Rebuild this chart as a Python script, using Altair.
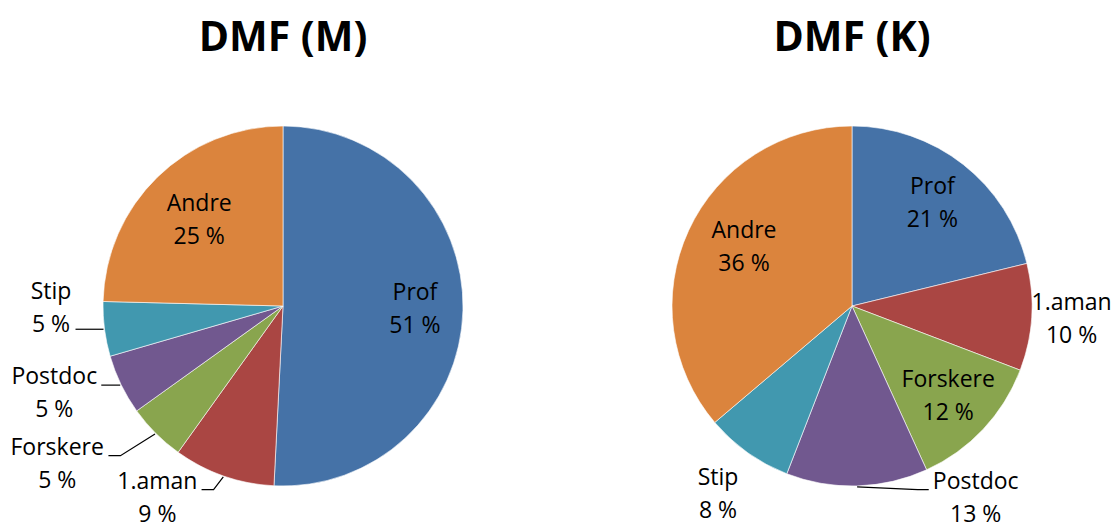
import math
import altair as alt
import pandas as pd

# ---- data -----------------------------------------------------------------
CATEGORIES = ["Prof", "1.aman", "Forskere", "Postdoc", "Stip", "Andre"]
M_VALUES = [50.8, 9.1, 5.2, 5.4, 4.9, 24.6]
K_VALUES = [21.2, 9.6, 12.4, 12.7, 7.9, 36.2]
TITLES = ["DMF (M)", "DMF (K)"]
COLORS = ["#4572A7", "#AA4643", "#89A54E", "#71588F", "#4198AF", "#DB843D"]

# ---- layout / style --------------------------------------------------------
FONT = "Open Sans"
LABEL_SIZE = 23
LINE_H = 33
R = 180
H = 380
WIDTHS = [550, 520]
SPACING = 34
R_IN = 127
R_OUT = 228
INSIDE = {"DMF (M)": ["Prof", "Andre"], "DMF (K)": ["Prof", "Andre", "Forskere"]}
R_OVERRIDE = {"DMF (M)": {"Prof": 132, "Andre": 120},
              "DMF (K)": {"Prof": 130, "1.aman": 220, "Forskere": 132, "Stip": 231}}
# labels dragged away from their default place (angle in degrees, radius px)
MOVED = {
    "DMF (M)": {"Stip": (269.3, 232), "Postdoc": (249.0, 245),
                "Forskere": (234.9, 276), "1.aman": (213.1, 230)},
    "DMF (K)": {"Postdoc": (147.3, 229), "Andre": (298.6, 123)},
}
LEADERS = {"DMF (M)": ["Stip", "Postdoc", "Forskere", "1.aman"],
           "DMF (K)": ["Postdoc"]}
CHAR_EM = {"P": .603, "r": .411, "o": .6, "f": .344, "A": .633, "n": .613,
           "d": .613, "e": .561, "S": .55, "t": .361, "i": .258, "p": .613,
           "s": .479, "c": .482, "F": .555, "k": .53, "a": .556, "m": .929,
           ".": .268, " ": .26, "%": .823}


def text_w(s):
    return sum(CHAR_EM.get(ch, .571) for ch in s) * LABEL_SIZE


def pie(title, values, width):
    total = sum(values)
    df = pd.DataFrame({"cat": CATEGORIES, "value": values,
                       "idx": list(range(len(values)))})
    cx, cy = width / 2, H / 2
    lab_rows, lead_rows = [], []
    cum = 0.0
    for cat, v in zip(CATEGORIES, values):
        mid = (cum + v / 2) / total * 2 * math.pi
        cum += v
        pct = f"{round(v / total * 100)} %"
        if cat in MOVED[title]:
            a, r = MOVED[title][cat]
            th = math.radians(a)
        else:
            base = R_IN if cat in INSIDE[title] else R_OUT
            th, r = mid, R_OVERRIDE[title].get(cat, base)
        lab_rows.append({"cat": cat, "txt": f"{cat}\n{pct}", "th": th, "r": r})
        if cat in LEADERS[title]:
            lx, ly = cx + r * math.sin(th), cy - r * math.cos(th)
            ex, ey = cx + (R + 1) * math.sin(mid), cy - (R + 1) * math.cos(mid)
            hw = max(text_w(cat), text_w(pct)) / 2
            y = min(max(ey, ly - 9), ly + 22)
            if lx < ex:
                sx = lx + hw + 4
                bx = sx + 12
            else:
                sx = lx - hw - 4
                bx = sx - 11
            for k, (px, py) in enumerate([(sx, y), (bx, y), (ex, ey)]):
                lead_rows.append({"cat": cat, "k": k, "px": px, "py": py})
    labs = pd.DataFrame(lab_rows)
    leads = pd.DataFrame(lead_rows)

    arcs = alt.Chart(df).mark_arc(outerRadius=R, stroke="#ffffff",
                                  strokeWidth=0.6).encode(
        theta=alt.Theta("value:Q", stack=True),
        order=alt.Order("idx:Q"),
        color=alt.Color("cat:N", scale=alt.Scale(domain=CATEGORIES, range=COLORS),
                        legend=None),
    )
    texts = alt.Chart(labs).mark_text(
        font=FONT, fontSize=LABEL_SIZE, color="#000000", align="center",
        baseline="middle", lineBreak="\n", lineHeight=LINE_H, dy=-LINE_H / 2,
    ).encode(
        theta=alt.Theta("th:Q", scale=None, stack=False),
        radius=alt.Radius("r:Q", scale=None),
        text="txt:N",
    )
    layers = [arcs, texts]
    if len(leads):
        lines = alt.Chart(leads).mark_line(color="#000000", strokeWidth=1.2).encode(
            x=alt.X("px:Q", scale=None, axis=None),
            y=alt.Y("py:Q", scale=None, axis=None),
            detail="cat:N",
            order="k:Q",
        )
        layers.append(lines)
    return alt.layer(*layers).properties(
        width=width, height=H,
        title=alt.TitleParams(title, font=FONT, fontSize=41, fontWeight="bold",
                              color="#000000", anchor="middle", frame="group",
                              offset=56),
    )


chart = alt.hconcat(
    pie(TITLES[0], M_VALUES, WIDTHS[0]),
    pie(TITLES[1], K_VALUES, WIDTHS[1]),
    spacing=SPACING,
).properties(
    padding={"top": 10, "left": 0, "right": 0, "bottom": 0},
    background="#ffffff",
).configure_view(stroke=None)

chart.save("out.html", embed_options={"renderer": "svg", "actions": False})
